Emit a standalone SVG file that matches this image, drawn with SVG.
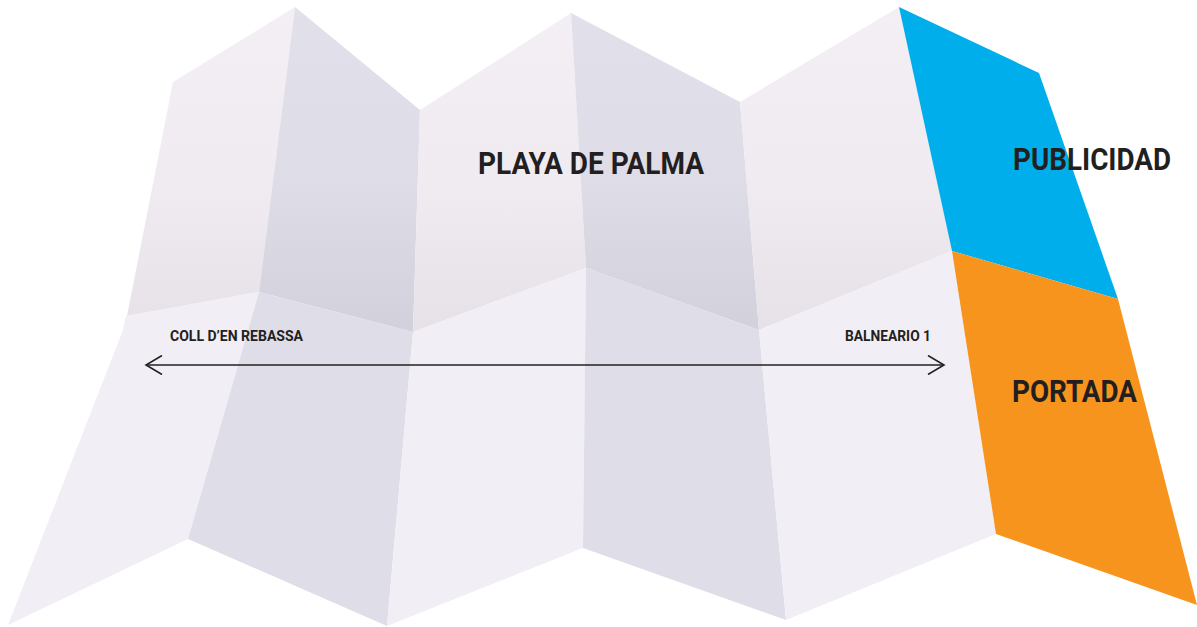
<svg xmlns="http://www.w3.org/2000/svg" width="1197" height="627" viewBox="0 0 1197 627">
<defs>
<linearGradient id="gLight" gradientUnits="userSpaceOnUse" x1="0" y1="0" x2="0" y2="335">
<stop offset="0" stop-color="#f3eff5"/><stop offset="0.55" stop-color="#efebf1"/><stop offset="1" stop-color="#e5e1e7"/>
</linearGradient>
<linearGradient id="gDark" gradientUnits="userSpaceOnUse" x1="0" y1="0" x2="0" y2="335">
<stop offset="0" stop-color="#e2e0ea"/><stop offset="0.55" stop-color="#dedce6"/><stop offset="1" stop-color="#d2d0db"/>
</linearGradient>
<marker id="chev" viewBox="0 0 20 20" refX="17" refY="10" markerWidth="20" markerHeight="20" markerUnits="userSpaceOnUse" orient="auto-start-reverse">
<path d="M1,0.5 L17,10 L1,19.5" fill="none" stroke="#231f20" stroke-width="1.6"/>
</marker>
</defs>
<style>
.tl{fill:url(#gLight)}
.td{fill:url(#gDark)}
.bl{fill:#f2eef5}
.bd{fill:#dfdee8}
.lbl{font-family:Roboto,"Liberation Sans",sans-serif;font-weight:700;fill:#231f20}
.big{font-size:32px}
.small{font-size:15px}
</style>
<rect width="1197" height="627" fill="#ffffff"/>
<g id="panels-top">
<polygon id="p-top-1" class="tl" points="173,82 295,7 259,292 127,316"/>
<polygon id="p-top-2" class="td" points="295,7 420,110 413,332 259,292"/>
<polygon id="p-top-3" class="tl" points="420,110 571,13 586,268 413,332"/>
<polygon id="p-top-4" class="td" points="571,13 740,102 759,330 586,268"/>
<polygon id="p-top-5" class="tl" points="740,102 899,7 952,251 759,330"/>
</g>
<g id="panels-bottom">
<polygon id="p-bot-1" class="bl" points="126,316 259,292 188,539 8,625 123,330"/>
<polygon id="p-bot-2" class="bd" points="259,292 413,332 387,626 188,539"/>
<polygon id="p-bot-3" class="bl" points="413,332 586,268 583,548 387,626"/>
<polygon id="p-bot-4" class="bd" points="586,268 759,330 786,620 583,548"/>
<polygon id="p-bot-5" class="bl" points="759,330 952,251 996,534 786,620"/>
</g>
<g id="publicidad">
<polygon fill="#00aeeb" points="899,7 1039,73 1118,299 952,251"/>
<text class="lbl big" x="1013" y="170" textLength="158" lengthAdjust="spacingAndGlyphs">PUBLICIDAD</text>
</g>
<g id="portada">
<polygon fill="#f7941e" points="952,251 1118,299 1197,605 996,534"/>
<text class="lbl big" x="1012" y="402" textLength="125" lengthAdjust="spacingAndGlyphs">PORTADA</text>
</g>
<g id="title">
<text class="lbl big" x="478" y="174" textLength="226" lengthAdjust="spacingAndGlyphs">PLAYA DE PALMA</text>
</g>
<g id="label-coll">
<text class="lbl small" x="170" y="341" textLength="133" lengthAdjust="spacingAndGlyphs">COLL D’EN REBASSA</text>
</g>
<g id="label-balneario">
<text class="lbl small" x="845" y="341" textLength="86" lengthAdjust="spacingAndGlyphs">BALNEARIO 1</text>
</g>
<g id="connectors">
<line x1="146" y1="365" x2="944" y2="365" stroke="#231f20" stroke-width="1.6" marker-start="url(#chev)" marker-end="url(#chev)"/>
</g>
</svg>
